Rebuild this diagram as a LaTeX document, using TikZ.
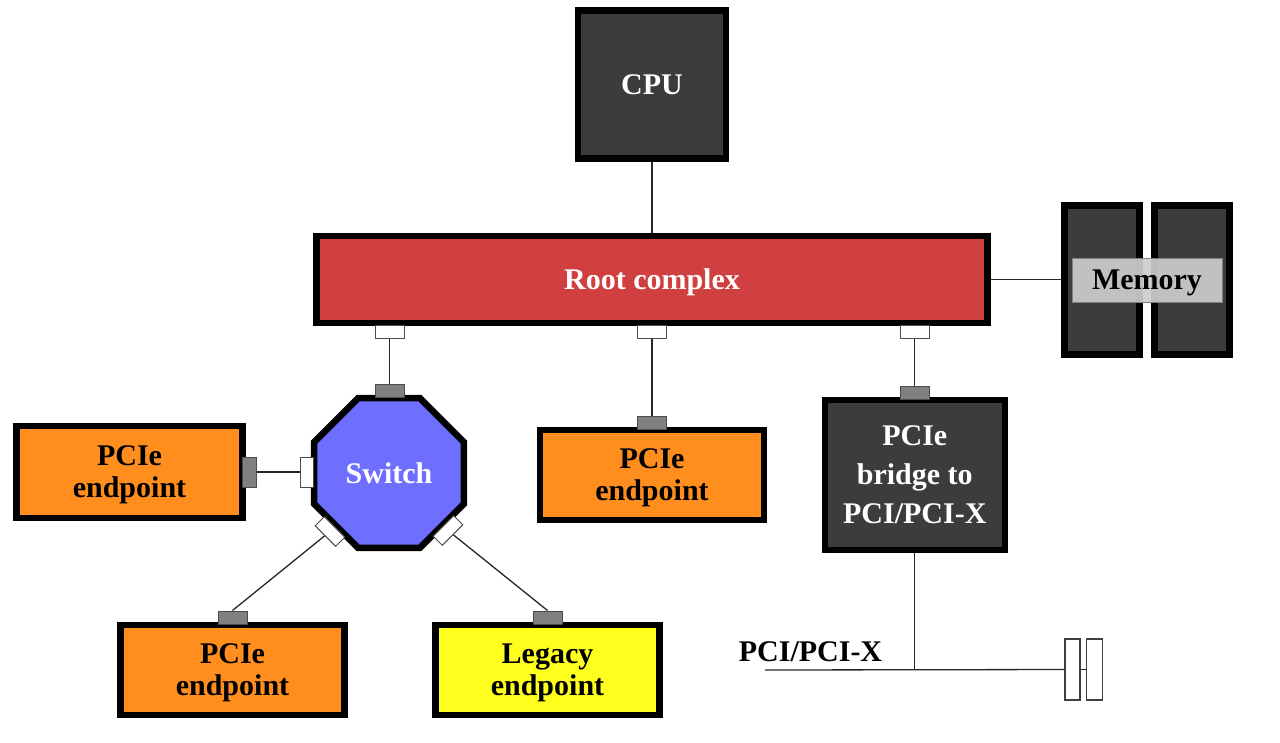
\documentclass[tikz,border=0pt]{standalone}
\usepackage{fontspec}
\setmainfont{Liberation Serif}
\usepackage{xcolor}
\usetikzlibrary{shapes.geometric}
\definecolor{boxgray}{RGB}{60,60,60}
\definecolor{rcred}{RGB}{208,64,64}
\definecolor{swblue}{RGB}{110,110,255}
\definecolor{eporange}{RGB}{255,142,30}
\definecolor{legyellow}{RGB}{255,255,30}
\definecolor{memgray}{RGB}{204,204,204}
\definecolor{portgray}{RGB}{128,128,128}
\begin{document}
\begin{tikzpicture}[x=1pt,y=-1pt]
    \tikzstyle{edge}=[draw,line width=1.3pt,-,black!85]
    \tikzstyle{box}=[draw=black,line width=6.5pt,rectangle,inner sep=0pt,align=center,text depth=0pt,font=\bfseries\fontsize{30}{32}\selectfont]
    \tikzstyle{dark}=[box,fill=boxgray,text=white]
    \tikzstyle{endpoint}=[box,fill=eporange,minimum width=224pt,minimum height=90pt,text depth=-6pt]
    \tikzstyle{uport}=[draw=black!70,line width=1pt,fill=portgray,rectangle,inner sep=0pt,minimum width=29pt,minimum height=13pt]
    \tikzstyle{dport}=[uport,fill=white]
    \tikzstyle{slot}=[draw=black!75,line width=1.3pt,fill=white,inner sep=0pt,minimum width=15pt,minimum height=61pt]
    \useasboundingbox (0,0) rectangle (1280,742);
    % devices
    \node[dark,minimum width=148pt,minimum height=148pt] (cpu) at (652,84.5) {CPU};
    \node[box,fill=rcred,text=white,minimum width=671pt,minimum height=87pt] (rc) at (652,279.5) {Root complex};
    \node[dark,minimum width=75pt,minimum height=149pt] (m1) at (1102,280) {};
    \node[dark,minimum width=75pt,minimum height=149pt] (m2) at (1192,280) {};
    \node[draw=black!50,line width=1pt,fill=memgray,fill opacity=.93,text opacity=1,minimum width=150pt,minimum height=44pt,inner sep=0pt,text depth=0pt,font=\bfseries\fontsize{30}{32}\selectfont] (mem) at (1147,280) {Memory};
    \node[box,regular polygon,regular polygon sides=8,minimum size=162pt,fill=swblue,text=white] (sw) at (389,473) {Switch};
    \node[endpoint,minimum width=226pt,minimum height=92pt] (epl) at (129.5,472) {PCIe\\endpoint};
    \node[endpoint] (epm) at (652,475) {PCIe\\endpoint};
    \node[endpoint] (epb) at (232.5,670) {PCIe\\endpoint};
    \node[endpoint,fill=legyellow] (leg) at (547.5,670) {Legacy\\endpoint};
    \node[dark,minimum width=180pt,minimum height=150pt,font=\bfseries\fontsize{30}{39}\selectfont] (br) at (914.8,475) {PCIe\\bridge to\\PCI/PCI-X};
    % ports
    \node[dport] (rp1) at (389.5,332) {};
    \node[dport] (rp2) at (652,332) {};
    \node[dport] (rp3) at (914.5,332) {};
    \node[uport] (swu) at (389.5,391) {};
    \node[uport] (epmu) at (652,422.5) {};
    \node[uport] (bru) at (914.5,392.5) {};
    \node[uport,minimum width=14pt,minimum height=30pt] (eplr) at (249,472) {};
    \node[dport,minimum width=13pt,minimum height=30pt] (swl) at (306.5,472) {};
    \node[dport,rotate=-45] (swdl) at (330,531.5) {};
    \node[dport,rotate=45] (swdr) at (448,530.5) {};
    \node[uport] (epbu) at (232.5,617.5) {};
    \node[uport] (legu) at (547.5,617.5) {};
    % PCI bus
    \coordinate (busl) at (765,670);
    \node[slot] (s1) at (1072.5,669.5) {};
    \node[slot,minimum width=16pt] (s2) at (1094.7,669.5) {};
    \node[anchor=base,inner sep=0pt,font=\bfseries\fontsize{30}{32}\selectfont] (pci) at (810.5,661) {PCI/PCI-X};
    % links
    \draw[edge] (cpu) -- (rc);
    \draw[edge] (rc.east) -- (rc.east -| m1.west);
    \draw[edge] (rp1) -- (swu);
    \draw[edge] (rp2) -- (epmu);
    \draw[edge] (rp3) -- (bru);
    \draw[edge] (eplr) -- (swl);
    \draw[edge] (swdl) -- (epbu.north);
    \draw[edge] (swdr) -- (legu.north);
    \draw[edge] (br.south) -- (br.south |- busl);
    \draw[edge] (busl) -- (s1);
    \draw[edge] (s1) -- (s2);
\end{tikzpicture}
\end{document}
